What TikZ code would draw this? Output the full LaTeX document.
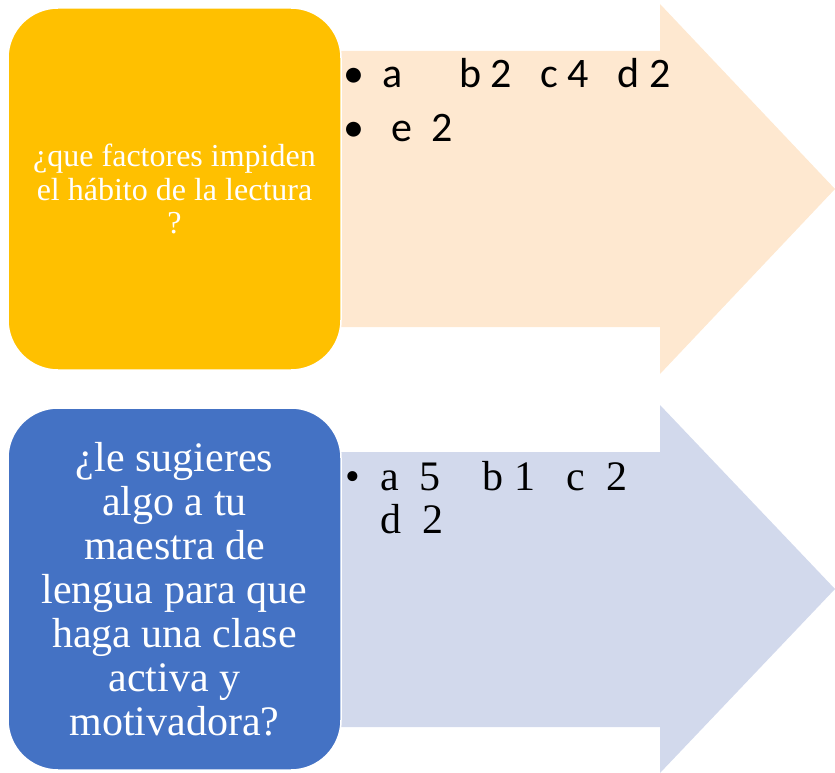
\documentclass[tikz,border=0pt]{standalone}
\usepackage{fontspec}
\setmainfont{Liberation Serif}
\newfontfamily\calibri{Carlito}
\usepackage{tikz}
\usetikzlibrary{positioning}
\definecolor{qorange}{HTML}{FFC000}
\definecolor{qpeach}{HTML}{FEE8D0}
\definecolor{qblue}{HTML}{4472C4}
\definecolor{qlav}{HTML}{D2D9EC}
\tikzset{
    qbox/.style={rounded corners=50pt, draw=white, line width=1.5pt, minimum width=333pt,
        minimum height=362pt, align=center, text=white, inner sep=0pt},
    item/.style={anchor=base west, inner sep=0pt, align=left}
}

\begin{document}
\begin{tikzpicture}[x=1pt, y=-1pt]
        \useasboundingbox (0, 0) rectangle (835, 773);
        % arrows
        \fill[qpeach] (330, 51) -- (660, 51) -- (660, 4) -- (835, 189) -- (660, 374) -- (660, 327) -- (330, 327) -- cycle;
        \fill[qlav] (330, 452) -- (660, 452) -- (660, 405) -- (835, 589) -- (660, 773) -- (660, 727) -- (330, 727) -- cycle;
        % boxes
        \node[qbox, fill=qorange, font=\fontsize{32}{33.5}\selectfont] (q1) at (174.5, 189)
            {¿que factores impiden\\el hábito de la lectura\\?};
        \node[qbox, fill=qblue, font=\fontsize{42}{44}\selectfont] (q2) at (174.5, 589)
            {¿le sugieres\\algo a tu\\maestra de\\lengua para que\\haga una clase\\activa y\\motivadora?};
        % answers
        \node[item, font=\calibri\fontsize{42}{54}\selectfont] (a1) at (343, 88)
            {\makebox[39pt][l]{•}a\ \ \ \ \ \ b\ 2\ \ \ c\ 4\ \ \ d\ 2};
        \node[item, font=\calibri\fontsize{42}{54}\selectfont] (a2) at (343, 142)
            {\makebox[39pt][l]{•}\ e\ \ 2};
        \node[item, font=\fontsize{42}{43}\selectfont] (b1) at (345, 490)
            {\makebox[35pt][l]{•}a\ \ 5\ \ \ \ b\ 1\ \ \ c\ \ 2};
        \node[item, font=\fontsize{42}{43}\selectfont] (b2) at (380, 533)
            {d\ \ 2};
    \end{tikzpicture}
\end{document}
